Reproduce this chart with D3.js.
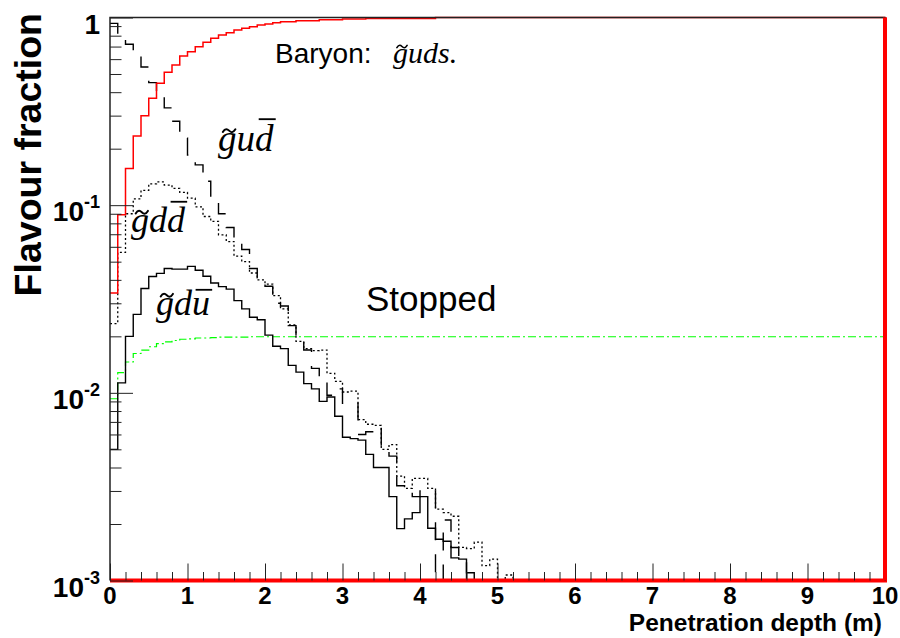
<!DOCTYPE html>
<html>
<head>
<meta charset="utf-8">
<script src="https://cdn.jsdelivr.net/npm/d3@7"></script>
<style>
  html, body { margin: 0; padding: 0; background: #ffffff; }
  svg { display: block; }
</style>
</head>
<body>
<svg id="chart" width="900" height="638"></svg>
<script>
// Histograms of the R-hadron flavour fraction versus penetration depth.
// Bins are 0.1 m wide, starting at 0 m; missing bins beyond an array are empty.
const binWidth = 0.1;
const nBins = 100;

// Baryon  g~uds (red)
const baryonFrac = [
  0.034, 0.089, 0.157, 0.234, 0.300, 0.371, 0.446, 0.511, 0.558, 0.624,
  0.657, 0.699, 0.738, 0.775, 0.807, 0.830, 0.858, 0.876, 0.893, 0.912,
  0.923, 0.938, 0.950, 0.950, 0.962, 0.962, 0.962, 0.973, 0.973, 0.973,
  0.982, 0.982, 0.982, 0.988, 0.988, 0.988, 0.988, 0.988, 0.988, 0.988,
  0.988, 0.988, 1, 1, 1, 1, 1, 1, 1, 1,
  1, 1, 1, 1, 1, 1, 1, 1, 1, 1,
  1, 1, 1, 1, 1, 1, 1, 1, 1, 1,
  1, 1, 1, 1, 1, 1, 1, 1, 1, 1,
  1, 1, 1, 1, 1, 1, 1, 1, 1, 1,
  1, 1, 1, 1, 1, 1, 1, 1, 1, 1
];

// Meson g~u d-bar (dashed)
const gudbarFrac = [
  0.93, 0.80, 0.72, 0.63, 0.545, 0.45, 0.38, 0.33, 0.28, 0.228,
  0.185, 0.164, 0.134, 0.109, 0.090, 0.076, 0.065, 0.058, 0.046, 0.041,
  0.037, 0.030, 0.029, 0.0228, 0.0188, 0.0169, 0.0135, 0.0114, 0.0097, 0.0105,
  0.0088, 0.0088, 0.0060, 0.0062, 0.0066, 0.0050, 0.0046, 0.0032, 0.0031, 0.0028,
  0.0030, 0.0030, 0, 0.0021, 0.0015, 0.0013
];

// Meson g~d d-bar (dotted)
const gddbarFrac = [
  0.0234, 0.056, 0.090, 0.108, 0.120, 0.130, 0.133, 0.128, 0.123, 0.117,
  0.109, 0.098, 0.087, 0.082, 0.0695, 0.064, 0.0535, 0.050, 0.0435, 0.040,
  0.038, 0.033, 0.028, 0.0230, 0.0188, 0.0172, 0.0168, 0.0169, 0.0127, 0.0115,
  0.0101, 0.0102, 0.0072, 0.0068, 0.0067, 0.0050, 0.0053, 0.0036, 0.0031, 0.0035,
  0.0035, 0.0031, 0.0024, 0.0023, 0.0022, 0.0015, 0.00148, 0.0016, 0.0012, 0.0013,
  0, 0.00107
];

// Meson g~d u-bar (solid)
const gdubarFrac = [
  0.0050, 0.0113, 0.020, 0.0262, 0.036, 0.0417, 0.0433, 0.046, 0.0456, 0.0456,
  0.0472, 0.045, 0.0418, 0.0385, 0.0368, 0.0357, 0.031, 0.028, 0.0253, 0.0245,
  0.0203, 0.0177, 0.0172, 0.0140, 0.0129, 0.0112, 0.0105, 0.0090, 0.0095, 0.0075,
  0.0058, 0.0057, 0.0056, 0.0047, 0.0040, 0.0040, 0.0028, 0.00189, 0.00213, 0.0023,
  0.0028, 0.0019, 0.00166, 0.00162, 0.00132, 0.0013, 0.0011
];

// Stopped fraction (green, dash-dot)
const stoppedFrac = [
  0.0093, 0.0128, 0.0146, 0.0162, 0.0169, 0.0176, 0.0183, 0.0187, 0.0190, 0.0193,
  0.0194, 0.0196, 0.0196, 0.0197, 0.0198, 0.0198, 0.0198, 0.0198, 0.0199, 0.0199,
  0.0199, 0.0199, 0.0199, 0.0199, 0.0199, 0.0199, 0.0199, 0.0199, 0.0199, 0.0199,
  0.0199, 0.0199, 0.0199, 0.0199, 0.0199, 0.0199, 0.0199, 0.0199, 0.0199, 0.0199,
  0.0199, 0.0199, 0.0199, 0.0199, 0.0199, 0.0199, 0.0199, 0.0199, 0.0199, 0.0199,
  0.0199, 0.0199, 0.0199, 0.0199, 0.0199, 0.0199, 0.0199, 0.0199, 0.0199, 0.0199,
  0.0199, 0.0199, 0.0199, 0.0199, 0.0199, 0.0199, 0.0199, 0.0199, 0.0199, 0.0199,
  0.0199, 0.0199, 0.0199, 0.0199, 0.0199, 0.0199, 0.0199, 0.0199, 0.0199, 0.0199,
  0.0199, 0.0199, 0.0199, 0.0199, 0.0199, 0.0199, 0.0199, 0.0199, 0.0199, 0.0199,
  0.0199, 0.0199, 0.0199, 0.0199, 0.0199, 0.0199, 0.0199, 0.0199, 0.0199, 0.0199
];

// Axis ticks and labels
const xMajorTicks = [0, 1, 2, 3, 4, 5, 6, 7, 8, 9, 10];
const xMinorStep = 0.2;
const xTickLabels = ["0", "1", "2", "3", "4", "5", "6", "7", "8", "9", "10"];
const yMajorTicks = [1e-3, 1e-2, 1e-1, 1];
const yTickBase = ["10", "10", "10", "1"];
const yTickExp = ["-3", "-2", "-1", ""];

const xTitle = "Penetration depth (m)";
const yTitle = "Flavour fraction";

// ---------------------------------------------------------------------------
const svg = d3.select("#chart");
const frame = { left: 110, right: 885, top: 17.5, bottom: 580.5 };

const x = d3.scaleLinear().domain([0, 10]).range([frame.left, frame.right]);
const y = d3.scaleLog().domain([1e-3, 1]).range([frame.bottom, frame.top]);
const yMin = 1e-3;

const sans = "'Liberation Sans', Arial, Helvetica, sans-serif";
const serif = "'Liberation Serif', 'Times New Roman', Times, serif";

// Step outline of a histogram; empty bins fall to the bottom of the frame.
function histPoints(vals, dropAtEnd) {
  const pts = vals.map((v, i) => [i * binWidth, Math.max(v, yMin)]);
  pts.push([vals.length * binWidth, Math.max(vals[vals.length - 1], yMin)]);
  if (dropAtEnd) pts.push([vals.length * binWidth, yMin]);
  return pts;
}
const stepLine = d3.line()
  .x(d => x(d[0]))
  .y(d => y(d[1]))
  .curve(d3.curveStepAfter);

const plot = svg.append("g");

// green: stopped
plot.append("path")
  .attr("d", stepLine(histPoints(stoppedFrac, false)))
  .attr("fill", "none").attr("stroke", "#00ff00").attr("stroke-width", 1.2)
  .attr("stroke-dasharray", "8,3,2,3");

// dotted: g~d d-bar
plot.append("path")
  .attr("d", stepLine(histPoints(gddbarFrac, true)))
  .attr("fill", "none").attr("stroke", "#000").attr("stroke-width", 1.3)
  .attr("stroke-dasharray", "2,2.5");

// solid: g~d u-bar
plot.append("path")
  .attr("d", stepLine(histPoints(gdubarFrac, true)))
  .attr("fill", "none").attr("stroke", "#000").attr("stroke-width", 1.4);

// dashed: g~u d-bar
plot.append("path")
  .attr("d", stepLine(histPoints(gudbarFrac, true)))
  .attr("fill", "none").attr("stroke", "#000").attr("stroke-width", 1.4)
  .attr("stroke-dasharray", "18,14");

// red: baryon outline, closed down the right edge and along the baseline
plot.append("path")
  .attr("d", stepLine(histPoints(baryonFrac, false)))
  .attr("fill", "none").attr("stroke", "#ff0000").attr("stroke-width", 1.5);
const lastBaryon = baryonFrac[baryonFrac.length - 1];
plot.append("path")
  .attr("d", d3.line().x(d => x(d[0])).y(d => y(d[1]))([
    [nBins * binWidth, lastBaryon], [nBins * binWidth, yMin], [0, yMin]
  ]))
  .attr("fill", "none").attr("stroke", "#ff0000").attr("stroke-width", 4);

// ---------------------------------------------------------------------------
// Axes (ticks drawn inward, ROOT style)
const axisColor = "#222";

const xMinorTicks = d3.range(0, 10 + 1e-9, xMinorStep).filter(v => Math.abs(v - Math.round(v)) > 1e-6);
const xAxisMinor = d3.axisBottom(x).tickValues(xMinorTicks).tickSize(-8.5).tickFormat("");
const xAxisMajor = d3.axisBottom(x).tickValues(xMajorTicks).tickSize(-17).tickFormat("");
svg.append("g").attr("transform", `translate(0,${frame.bottom})`).call(xAxisMinor)
  .call(g => g.select(".domain").remove())
  .call(g => g.selectAll("line").attr("stroke", axisColor).attr("stroke-width", 1));
svg.append("g").attr("transform", `translate(0,${frame.bottom})`).call(xAxisMajor)
  .call(g => g.select(".domain").remove())
  .call(g => g.selectAll("line").attr("stroke", axisColor).attr("stroke-width", 1));

const yMinorTicks = [];
[1e-3, 1e-2, 1e-1].forEach(d => { for (let k = 2; k <= 9; k++) yMinorTicks.push(k * d); });
const yAxisMinor = d3.axisLeft(y).tickValues(yMinorTicks).tickSize(-11.5).tickFormat("");
const yAxisMajor = d3.axisLeft(y).tickValues(yMajorTicks).tickSize(-23).tickFormat("");
svg.append("g").attr("transform", `translate(${frame.left},0)`).call(yAxisMinor)
  .call(g => g.select(".domain").remove())
  .call(g => g.selectAll("line").attr("stroke", axisColor).attr("stroke-width", 1));
svg.append("g").attr("transform", `translate(${frame.left},0)`).call(yAxisMajor)
  .call(g => g.select(".domain").remove())
  .call(g => g.selectAll("line").attr("stroke", axisColor).attr("stroke-width", 1));

// frame: left and top edges (bottom and right are covered by the red outline)
svg.append("path")
  .attr("d", `M${frame.left},${frame.bottom}V${frame.top}H${frame.right}V${frame.bottom}`)
  .attr("fill", "none").attr("stroke", axisColor).attr("stroke-width", 1.5);
// redraw the red right edge over the frame
svg.append("line")
  .attr("x1", x(10)).attr("x2", x(10)).attr("y1", y(lastBaryon)).attr("y2", frame.bottom)
  .attr("stroke", "#ff0000").attr("stroke-width", 4);

// x tick labels
svg.append("g").selectAll("text").data(xMajorTicks).join("text")
  .attr("x", d => x(d)).attr("y", 604)
  .attr("text-anchor", "middle")
  .attr("font-family", sans).attr("font-weight", "bold").attr("font-size", 24)
  .attr("fill", "#000")
  .text((d, i) => xTickLabels[i]);

// y tick labels with exponents
const yl = svg.append("g").selectAll("text").data(yMajorTicks).join("text")
  .attr("x", 100).attr("y", d => y(d) + 16)
  .attr("text-anchor", "end")
  .attr("font-family", sans).attr("font-weight", "bold").attr("font-size", 28)
  .attr("fill", "#000");
yl.append("tspan").text((d, i) => yTickBase[i]);
yl.append("tspan").attr("font-size", 18).attr("dy", -13).text((d, i) => yTickExp[i]);

// axis titles
svg.append("text")
  .attr("x", 882).attr("y", 631)
  .attr("text-anchor", "end")
  .attr("font-family", sans).attr("font-weight", "bold").attr("font-size", 24.5)
  .attr("fill", "#000")
  .text(xTitle);
svg.append("text")
  .attr("transform", "translate(41,13) rotate(-90)")
  .attr("text-anchor", "end")
  .attr("font-family", sans).attr("font-weight", "bold").attr("font-size", 37.5)
  .attr("fill", "#000")
  .text(yTitle);

// ---------------------------------------------------------------------------
// Flavour labels in italic serif with tilde and bar accents
function flavourLabel(x0, base, size, parts) {
  const g = svg.append("g");
  let cx = x0;
  parts.forEach(p => {
    const t = g.append("text")
      .attr("x", cx).attr("y", base)
      .attr("font-family", serif).attr("font-style", "italic").attr("font-size", size)
      .attr("fill", "#000")
      .text(p.t);
    const w = t.node().getComputedTextLength();
    if (p.tilde) {
      const hw = size * 0.17, a = size * 0.06;
      const tx = cx + w * 0.6, ty = base - size * 0.55;
      g.append("path")
        .attr("transform", `translate(${tx},${ty})`)
        .attr("d", `M${-hw},${a * 0.6} C${-hw * 0.6},${-a * 1.3} ${-hw * 0.25},${-a * 0.7} 0,0 S${hw * 0.6},${a * 1.3} ${hw},${-a * 0.6}`)
        .attr("fill", "none").attr("stroke", "#000").attr("stroke-width", size * 0.055)
        .attr("stroke-linecap", "round");
    }
    if (p.bar) {
      const by = base - size * p.bar;
      g.append("line")
        .attr("x1", cx + w * 0.2).attr("x2", cx + w + size * 0.06)
        .attr("y1", by).attr("y2", by)
        .attr("stroke", "#000").attr("stroke-width", size * 0.05);
    }
    cx += w;
  });
  return g;
}

svg.append("text")
  .attr("x", 275).attr("y", 63)
  .attr("font-family", sans).attr("font-size", 28).attr("fill", "#000")
  .text("Baryon:");
flavourLabel(393, 63, 30, [{ t: "g", tilde: true }, { t: "uds." }]);

flavourLabel(218, 151, 37, [{ t: "g", tilde: true }, { t: "u" }, { t: "d", bar: 0.86 }]);
flavourLabel(131, 232, 36, [{ t: "g", tilde: true }, { t: "d" }, { t: "d", bar: 0.84 }]);
flavourLabel(156, 315, 36, [{ t: "g", tilde: true }, { t: "d" }, { t: "u", bar: 0.7 }]);

svg.append("text")
  .attr("x", 366).attr("y", 311)
  .attr("font-family", sans).attr("font-size", 35).attr("fill", "#000")
  .text("Stopped");
</script>
</body>
</html>
